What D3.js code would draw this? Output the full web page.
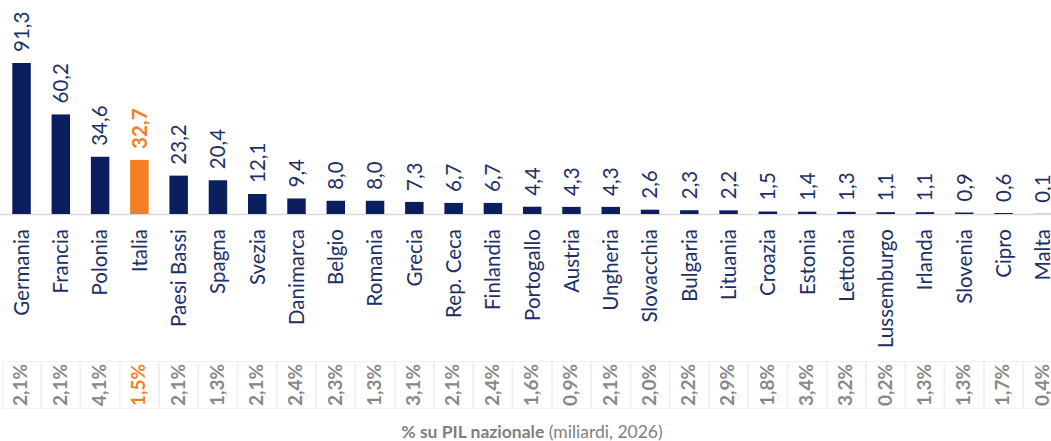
<!DOCTYPE html>
<html lang="it">
<head>
<meta charset="utf-8">
<script src="https://cdn.jsdelivr.net/npm/d3@7"></script>
<style>
  html, body { margin: 0; padding: 0; background: #ffffff; overflow: hidden; }
  svg { display: block; }
</style>
</head>
<body>
<svg id="chart" width="1051" height="441"></svg>
<script>
// Spesa per la difesa per paese (miliardi, 2026) e quota sul PIL nazionale
const countries = ["Germania", "Francia", "Polonia", "Italia", "Paesi Bassi", "Spagna", "Svezia",
  "Danimarca", "Belgio", "Romania", "Grecia", "Rep. Ceca", "Finlandia", "Portogallo", "Austria",
  "Ungheria", "Slovacchia", "Bulgaria", "Lituania", "Croazia", "Estonia", "Lettonia",
  "Lussemburgo", "Irlanda", "Slovenia", "Cipro", "Malta"];
const spending = [91.3, 60.2, 34.6, 32.7, 23.2, 20.4, 12.1, 9.4, 8.0, 8.0, 7.3, 6.7, 6.7, 4.4,
  4.3, 4.3, 2.6, 2.3, 2.2, 1.5, 1.4, 1.3, 1.1, 1.1, 0.9, 0.6, 0.1];
const gdpShare = [2.1, 2.1, 4.1, 1.5, 2.1, 1.3, 2.1, 2.4, 2.3, 1.3, 3.1, 2.1, 2.4, 1.6, 0.9,
  2.1, 2.0, 2.2, 2.9, 1.8, 3.4, 3.2, 0.2, 1.3, 1.3, 1.7, 0.4];
const highlight = "Italia";
const captionBold = "% su PIL nazionale";
const captionRest = " (miliardi, 2026)";

const navy = "#0b1f5e";
const navyText = "#1c2f66";
const orange = "#f37f22";
const grey = "#888888";

const svg = d3.select("#chart");
const fmt = v => v.toFixed(1).replace(".", ",");

const stepPx = 39.28;
const x = d3.scaleBand().domain(countries)
  .range([1.9, 1.9 + stepPx * countries.length])
  .paddingInner(0.53).paddingOuter(0.265);
const y = d3.scaleLinear().domain([0, 91.3]).range([214, 63]);

const data = countries.map((c, i) => ({ c, v: spending[i], p: gdpShare[i] }));
const isHi = d => d.c === highlight;
const cx = d => x(d.c) + x.bandwidth() / 2;

// baseline
svg.append("line")
  .attr("x1", 0).attr("x2", 1051)
  .attr("y1", y(0) + 0.5).attr("y2", y(0) + 0.5)
  .attr("stroke", "#d9d9d9").attr("stroke-width", 1.5);

// bars
svg.append("g").selectAll("rect").data(data).join("rect")
  .attr("x", d => x(d.c))
  .attr("width", x.bandwidth())
  .attr("y", d => y(d.v))
  .attr("height", d => y(0) - y(d.v))
  .attr("fill", d => isHi(d) ? orange : navy);

// value labels above bars
svg.append("g").selectAll("text").data(data).join("text")
  .attr("transform", d => `translate(${cx(d)},${y(d.v) - 11}) rotate(-90)`)
  .attr("dy", "0.36em")
  .attr("text-anchor", "start")
  .attr("font-family", "Lato, 'Noto Sans', sans-serif")
  .attr("font-size", 20.5)
  .attr("font-weight", d => isHi(d) ? 700 : 400)
  .attr("fill", d => isHi(d) ? orange : navyText)
  .text(d => fmt(d.v));

// country labels
svg.append("g").selectAll("text").data(data).join("text")
  .attr("transform", d => `translate(${cx(d)},229) rotate(-90)`)
  .attr("dy", "0.36em")
  .attr("text-anchor", "end")
  .attr("font-family", "Lato, 'Noto Sans', sans-serif")
  .attr("font-size", 20.5)
  .attr("fill", navyText)
  .text(d => d.c);

// GDP share row
const step = x.step();
const row = svg.append("g");
row.selectAll("rect").data(data).join("rect")
  .attr("x", d => cx(d) - step / 2 + 0.5)
  .attr("width", step - 1)
  .attr("y", 361.5).attr("height", 47)
  .attr("fill", "none")
  .attr("stroke", "#f0f0f0").attr("stroke-width", 1);
row.selectAll("text").data(data).join("text")
  .attr("transform", d => `translate(${cx(d) - 1},385) rotate(-90)`)
  .attr("dy", "0.36em")
  .attr("text-anchor", "middle")
  .attr("font-family", "Lato, 'Noto Sans', sans-serif")
  .attr("font-size", 19)
  .attr("font-weight", 700)
  .attr("fill", d => isHi(d) ? orange : grey)
  .text(d => fmt(d.p) + "%");

// caption
const cap = svg.append("text")
  .attr("x", 532).attr("y", 438)
  .attr("text-anchor", "middle")
  .attr("font-family", "Lato, 'Noto Sans', sans-serif")
  .attr("font-size", 17.5)
  .attr("fill", "#7f7f7f");
cap.append("tspan").attr("font-weight", 700).text(captionBold);
cap.append("tspan").attr("font-weight", 400).text(captionRest);
</script>
</body>
</html>
